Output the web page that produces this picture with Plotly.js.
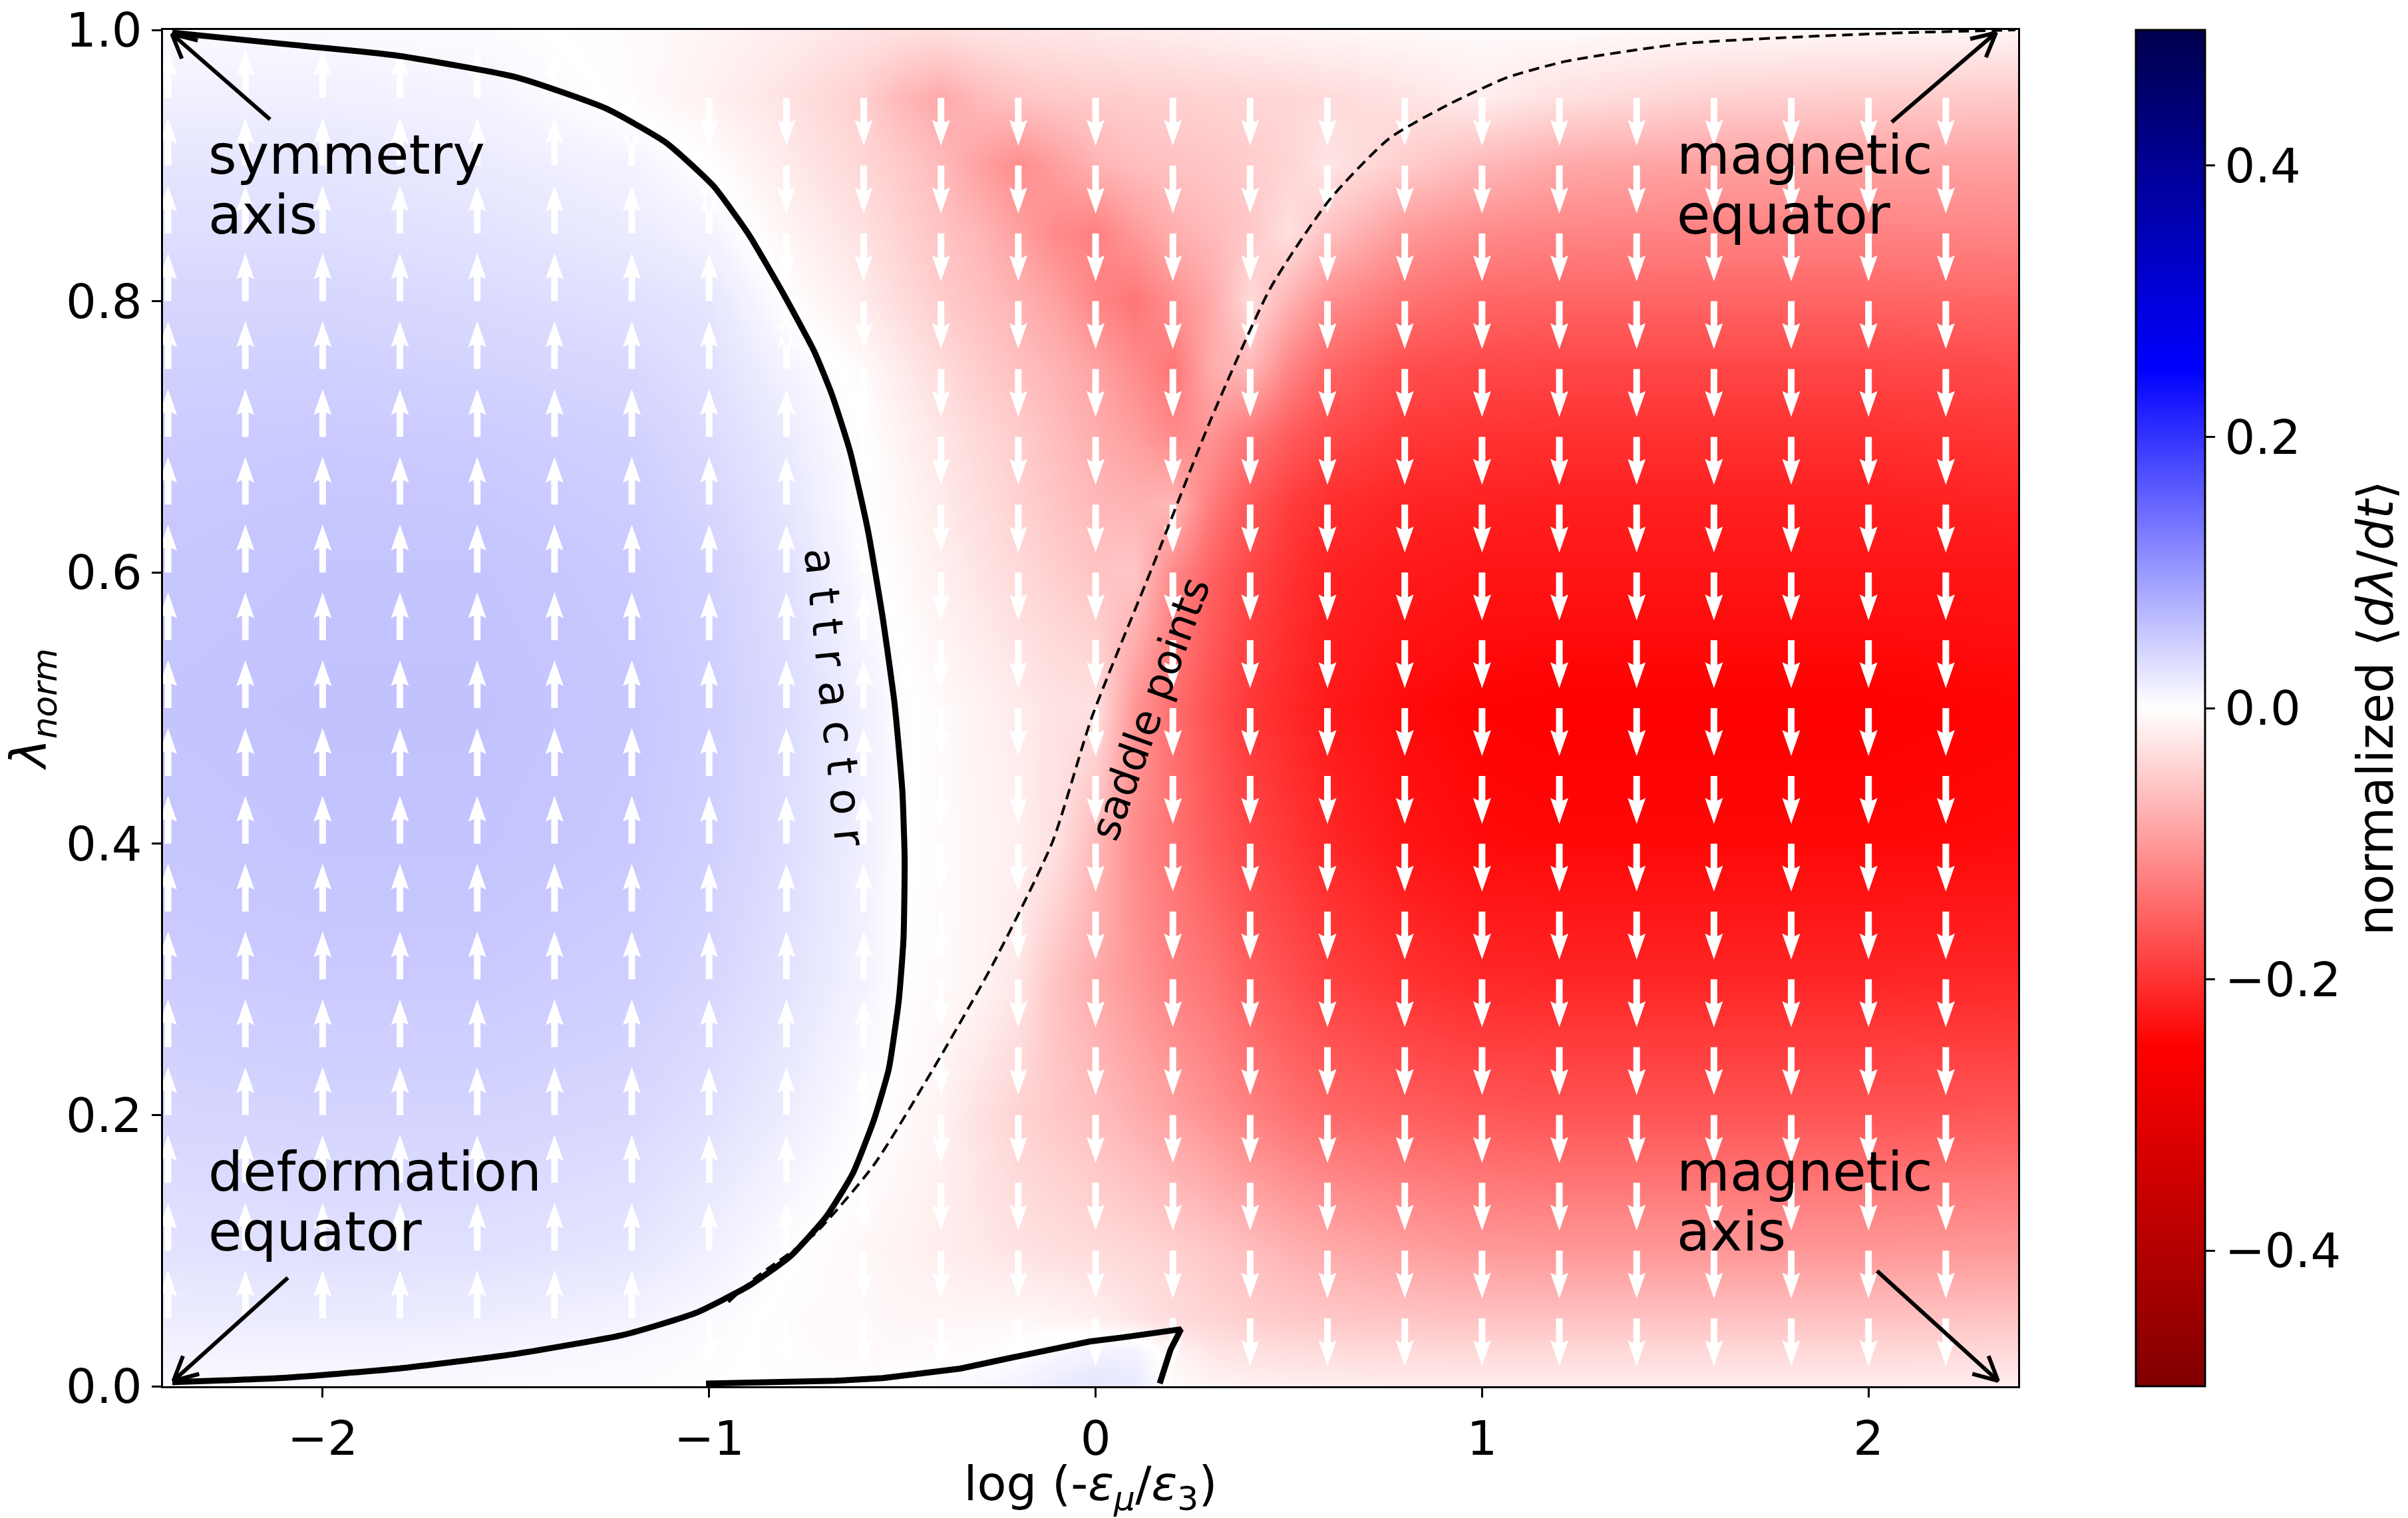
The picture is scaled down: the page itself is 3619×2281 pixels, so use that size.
<!DOCTYPE html>
<html>
<head>
<meta charset="utf-8">
<script src="https://cdn.plot.ly/plotly-3.0.1.min.js"></script>
<style>
html,body{margin:0;padding:0;background:#ffffff;}
#chart{width:3619px;height:2281px;}
</style>
</head>
<body>
<div id="chart"></div>
<script>
// ---------------- data ----------------
// heat-map grid: log(-eps_mu/eps_3) columns and lambda_norm rows
const GRID_X = [-2.4, -2.0, -1.6, -1.2, -1.0, -0.8, -0.6, -0.5, -0.4, -0.3, -0.2, -0.1, 0.0, 0.1, 0.2, 0.3, 0.4, 0.5, 0.6, 0.8, 1.0, 1.2, 1.6, 2.0, 2.4];
const GRID_Y = [0, 0.025, 0.05, 0.1, 0.2, 0.3, 0.4, 0.5, 0.6, 0.65, 0.7, 0.75, 0.8, 0.85, 0.9, 0.95, 1.0];

// normalized <dλ/dt>, one named row per lambda value
const Z_000 = [0.005, 0.005, 0.005, 0.003, 0.000, 0.000, 0.000, 0.002, 0.005, 0.008, 0.012, 0.020, 0.025, 0.022, -0.004, -0.010, -0.013, -0.015, -0.016, -0.017, -0.017, -0.017, -0.017, -0.017, -0.016];
const Z_025 = [0.012, 0.012, 0.010, 0.006, 0.002, -0.002, -0.006, -0.006, -0.005, -0.003, 0.001, 0.008, 0.014, 0.014, -0.010, -0.025, -0.030, -0.033, -0.035, -0.037, -0.038, -0.038, -0.038, -0.038, -0.037];
const Z_050 = [0.018, 0.020, 0.018, 0.012, 0.005, -0.003, -0.006, -0.008, -0.008, -0.008, -0.008, -0.010, -0.015, -0.025, -0.035, -0.042, -0.048, -0.052, -0.055, -0.058, -0.060, -0.060, -0.060, -0.060, -0.058];
const Z_100 = [0.028, 0.030, 0.030, 0.025, 0.015, 0.002, -0.008, -0.012, -0.018, -0.022, -0.028, -0.032, -0.036, -0.040, -0.046, -0.055, -0.065, -0.075, -0.083, -0.093, -0.100, -0.102, -0.102, -0.102, -0.100];
const Z_200 = [0.040, 0.042, 0.042, 0.038, 0.030, 0.018, 0.002, -0.005, -0.012, -0.029, -0.044, -0.054, -0.064, -0.078, -0.093, -0.108, -0.123, -0.137, -0.147, -0.157, -0.164, -0.167, -0.167, -0.167, -0.164];
const Z_300 = [0.050, 0.052, 0.052, 0.047, 0.040, 0.028, 0.012, 0.000, -0.005, -0.010, -0.025, -0.060, -0.083, -0.103, -0.123, -0.137, -0.157, -0.172, -0.186, -0.201, -0.211, -0.213, -0.213, -0.213, -0.211];
const Z_400 = [0.055, 0.058, 0.058, 0.053, 0.046, 0.033, 0.015, 0.002, -0.004, -0.010, -0.015, -0.030, -0.070, -0.113, -0.137, -0.162, -0.181, -0.196, -0.211, -0.230, -0.240, -0.242, -0.242, -0.242, -0.240];
const Z_500 = [0.058, 0.060, 0.060, 0.055, 0.048, 0.035, 0.015, 0.003, -0.005, -0.012, -0.020, -0.027, -0.030, -0.103, -0.142, -0.172, -0.196, -0.211, -0.225, -0.240, -0.247, -0.250, -0.250, -0.250, -0.245];
const Z_600 = [0.055, 0.058, 0.058, 0.052, 0.045, 0.030, 0.005, -0.005, -0.015, -0.026, -0.037, -0.048, -0.058, -0.055, -0.115, -0.155, -0.181, -0.201, -0.216, -0.225, -0.230, -0.230, -0.230, -0.230, -0.230];
const Z_650 = [0.053, 0.055, 0.054, 0.049, 0.040, 0.025, 0.000, -0.008, -0.020, -0.032, -0.045, -0.058, -0.070, -0.075, -0.070, -0.130, -0.165, -0.190, -0.205, -0.215, -0.218, -0.220, -0.220, -0.220, -0.216];
const Z_700 = [0.050, 0.052, 0.050, 0.045, 0.035, 0.020, 0.000, -0.012, -0.025, -0.038, -0.050, -0.065, -0.080, -0.095, -0.115, -0.105, -0.135, -0.160, -0.178, -0.196, -0.201, -0.203, -0.203, -0.203, -0.198];
const Z_750 = [0.045, 0.046, 0.043, 0.038, 0.030, 0.012, -0.005, -0.020, -0.035, -0.050, -0.062, -0.075, -0.090, -0.112, -0.135, -0.080, -0.070, -0.120, -0.150, -0.175, -0.180, -0.182, -0.182, -0.182, -0.178];
const Z_800 = [0.040, 0.040, 0.036, 0.030, 0.025, 0.000, -0.020, -0.035, -0.050, -0.062, -0.075, -0.092, -0.118, -0.135, -0.110, -0.085, -0.035, -0.075, -0.110, -0.138, -0.150, -0.152, -0.152, -0.152, -0.150];
const Z_850 = [0.032, 0.032, 0.028, 0.020, 0.012, -0.010, -0.030, -0.045, -0.058, -0.072, -0.092, -0.115, -0.125, -0.100, -0.080, -0.068, -0.055, -0.030, -0.060, -0.100, -0.115, -0.120, -0.123, -0.123, -0.120];
const Z_900 = [0.025, 0.025, 0.020, 0.012, 0.000, -0.020, -0.040, -0.052, -0.068, -0.092, -0.112, -0.095, -0.075, -0.065, -0.060, -0.056, -0.050, -0.042, -0.025, -0.050, -0.070, -0.085, -0.093, -0.093, -0.093];
const Z_950 = [0.015, 0.015, 0.012, -0.003, -0.014, -0.028, -0.048, -0.070, -0.085, -0.068, -0.058, -0.053, -0.050, -0.048, -0.046, -0.044, -0.042, -0.040, -0.036, -0.028, -0.018, -0.030, -0.045, -0.050, -0.054];
const Z_1000 = [0.005, 0.005, 0.003, -0.004, -0.010, -0.018, -0.026, -0.030, -0.030, -0.027, -0.025, -0.024, -0.022, -0.020, -0.018, -0.015, -0.012, -0.010, -0.009, -0.006, -0.004, -0.004, -0.006, -0.008, -0.010];

// quiver grid (arrow tails) and direction of dλ/dt (U = up, D = down), rows from top to bottom
const ARROW_X = [-2.4, -2.2, -2.0, -1.8, -1.6, -1.4, -1.2, -1.0, -0.8, -0.6, -0.4, -0.2, 0.0, 0.2, 0.4, 0.6, 0.8, 1.0, 1.2, 1.4, 1.6, 1.8, 2.0, 2.2];
const ARROW_Y = [0.95, 0.90, 0.85, 0.80, 0.75, 0.70, 0.65, 0.60, 0.55, 0.50, 0.45, 0.40, 0.35, 0.30, 0.25, 0.20, 0.15, 0.10, 0.05];
const ARROW_DIR = [
  "UUUUUUDDDDDDDDDDDDDDDDDD",
  "UUUUUUUDDDDDDDDDDDDDDDDD",
  "UUUUUUUUDDDDDDDDDDDDDDDD",
  "UUUUUUUUDDDDDDDDDDDDDDDD",
  "UUUUUUUUUDDDDDDDDDDDDDDD",
  "UUUUUUUUUDDDDDDDDDDDDDDD",
  "UUUUUUUUUDDDDDDDDDDDDDDD",
  "UUUUUUUUUUDDDDDDDDDDDDDD",
  "UUUUUUUUUUDDDDDDDDDDDDDD",
  "UUUUUUUUUUDDDDDDDDDDDDDD",
  "UUUUUUUUUUDDDDDDDDDDDDDD",
  "UUUUUUUUUUDDDDDDDDDDDDDD",
  "UUUUUUUUUUDDDDDDDDDDDDDD",
  "UUUUUUUUUUDDDDDDDDDDDDDD",
  "UUUUUUUUUUDDDDDDDDDDDDDD",
  "UUUUUUUUUUDDDDDDDDDDDDDD",
  "UUUUUUUUUDDDDDDDDDDDDDDD",
  "UUUUUUUUUDDDDDDDDDDDDDDD",
  "UUUUUUUDDDDDDDDDDDDDDDDD"
];

// attractor (solid), saddle points (dashed) and lower zero contour
const ATTRACTOR_X = [-2.389, -2.112, -1.805, -1.497, -1.266, -1.112, -0.989, -0.897, -0.805, -0.728, -0.682, -0.635, -0.589, -0.551, -0.520, -0.500, -0.494, -0.497, -0.509, -0.535, -0.574, -0.628, -0.697, -0.789, -0.897, -1.035, -1.220, -1.497, -1.805, -2.112, -2.389];
const ATTRACTOR_Y = [0.998, 0.990, 0.981, 0.965, 0.942, 0.917, 0.885, 0.849, 0.804, 0.763, 0.731, 0.689, 0.631, 0.567, 0.503, 0.439, 0.388, 0.330, 0.285, 0.234, 0.196, 0.157, 0.125, 0.096, 0.074, 0.054, 0.038, 0.024, 0.013, 0.006, 0.003];
const SADDLE_X = [-0.95, -0.88, -0.728, -0.574, -0.42, -0.266, -0.112, -0.01, 0.147, 0.300, 0.453, 0.606, 0.760, 0.913, 1.066, 1.219, 1.525, 1.83, 2.10, 2.38];
const SADDLE_Y = [0.062, 0.080, 0.112, 0.163, 0.234, 0.311, 0.401, 0.493, 0.604, 0.714, 0.810, 0.875, 0.920, 0.945, 0.965, 0.977, 0.990, 0.995, 0.998, 1.0];
const LOWER_X = [-1.008, -0.85, -0.674, -0.55, -0.454, -0.35, -0.235, -0.12, -0.015, 0.07, 0.149, 0.221, 0.194, 0.166];
const LOWER_Y = [0.002, 0.003, 0.004, 0.006, 0.009, 0.013, 0.020, 0.027, 0.033, 0.036, 0.039, 0.042, 0.027, 0.002];

// text labels (left edge, baseline) and their pointer arrows (tail -> head)
const LABEL_TEXT = ["symmetry", "axis", "deformation", "equator", "magnetic", "equator", "magnetic", "axis"];
const LABEL_X = [-2.3, -2.3, -2.3, -2.3, 1.5, 1.5, 1.5, 1.5];
const LABEL_BASE_Y = [0.894, 0.85, 0.144, 0.10, 0.894, 0.85, 0.144, 0.10];
const POINTER_TAIL_X = [-2.136, -2.09, 2.06, 2.022];
const POINTER_TAIL_Y = [0.934, 0.080, 0.932, 0.085];
const POINTER_HEAD_X = [-2.39, -2.386, 2.33, 2.335];
const POINTER_HEAD_Y = [0.997, 0.004, 0.998, 0.004];

// axis ticks
const X_TICKS = [-2, -1, 0, 1, 2];
const X_TICKTEXT = ["\u22122", "\u22121", "0", "1", "2"];
const Y_TICKS = [0, 0.2, 0.4, 0.6, 0.8, 1.0];
const Y_TICKTEXT = ["0.0", "0.2", "0.4", "0.6", "0.8", "1.0"];
const CB_TICKS = [0.4, 0.2, 0.0, -0.2, -0.4];
const CB_TICKTEXT = ["0.4", "0.2", "0.0", "\u22120.2", "\u22120.4"];

// ---------------- styling / geometry ----------------
const FONT = "DejaVu Sans, Noto Sans, sans-serif";
const W = 3619, H = 2281;
const M = {l: 245, r: 586, t: 45, b: 198};
const X_RANGE = [-2.413, 2.387];
const Y_RANGE = [0, 1];
const PLOT_W = W - M.l - M.r, PLOT_H = H - M.t - M.b;
const PX_X = PLOT_W / (X_RANGE[1] - X_RANGE[0]);
const PX_Y = PLOT_H / (Y_RANGE[1] - Y_RANGE[0]);

// seismic_r colour map
const SEISMIC_R = [[0, "rgb(128,0,0)"], [0.25, "rgb(255,0,0)"], [0.5, "rgb(255,255,255)"], [0.75, "rgb(0,0,255)"], [1, "rgb(0,0,77)"]];

const Z = [Z_000, Z_025, Z_050, Z_100, Z_200, Z_300, Z_400, Z_500, Z_600, Z_650, Z_700, Z_750, Z_800, Z_850, Z_900, Z_950, Z_1000];

// quiver arrows as filled polygons (sizes in pixels converted to data units)
const ARROW_LEN_PX = 72, HEAD_LEN_PX = 39, HEAD_HALF_PX = 13.5, SHAFT_HALF_PX = 5, NOTCH_PX = 4;
const qx = [], qy = [];
ARROW_DIR.forEach((row, r) => {
  const y0 = ARROW_Y[r];
  for (let c = 0; c < ARROW_X.length; c++) {
    const s = row[c] === "U" ? 1 : -1;
    const x0 = ARROW_X[c];
    const L = ARROW_LEN_PX / PX_Y, hl = HEAD_LEN_PX / PX_Y, nt = NOTCH_PX / PX_Y;
    const hw = HEAD_HALF_PX / PX_X, sw = SHAFT_HALF_PX / PX_X;
    const yb = y0 + s * (L - hl), yn = y0 + s * (L - hl + nt), yt = y0 + s * L;
    qx.push(x0 - sw, x0 - sw, x0 - hw, x0, x0 + hw, x0 + sw, x0 + sw, x0 - sw, null);
    qy.push(y0, yn, yb, yt, yb, yn, y0, y0, null);
  }
});

// black pointer arrows: shaft plus open "->" head (head arms sized in pixels)
const HEAD_ARM_PX = 40, HEAD_ANGLE = 27 * Math.PI / 180;
const px = [], py = [];
for (let i = 0; i < POINTER_HEAD_X.length; i++) {
  const hx = POINTER_HEAD_X[i], hy = POINTER_HEAD_Y[i], tx = POINTER_TAIL_X[i], ty = POINTER_TAIL_Y[i];
  px.push(tx, hx, null); py.push(ty, hy, null);
  const dxp = (tx - hx) * PX_X, dyp = (ty - hy) * PX_Y;
  const n = Math.hypot(dxp, dyp), ux = dxp / n, uy = dyp / n;
  const arm = (a) => [hx + HEAD_ARM_PX * (ux * Math.cos(a) - uy * Math.sin(a)) / PX_X,
                      hy + HEAD_ARM_PX * (ux * Math.sin(a) + uy * Math.cos(a)) / PX_Y];
  const a1 = arm(HEAD_ANGLE), a2 = arm(-HEAD_ANGLE);
  px.push(a1[0], hx, a2[0], null); py.push(a1[1], hy, a2[1], null);
}

const traces = [
  {
    type: "heatmap", x: GRID_X, y: GRID_Y, z: Z,
    zmin: -0.5, zmax: 0.5, zsmooth: "best", colorscale: SEISMIC_R,
    hoverinfo: "skip",
    colorbar: {
      x: (3210 - M.l) / PLOT_W, xanchor: "left", y: 0.5, yanchor: "middle",
      len: 1, lenmode: "fraction", thickness: 104, thicknessmode: "pixels",
      xpad: 0, ypad: 0, outlinewidth: 3, outlinecolor: "#000",
      tickmode: "array", tickvals: CB_TICKS, ticktext: CB_TICKTEXT,
      ticks: "outside", ticklen: 14, tickwidth: 3, tickcolor: "#000",
      tickfont: {family: FONT, size: 72, color: "#000"}
    }
  },
  {
    type: "scatter", mode: "lines", x: qx, y: qy, fill: "toself", fillcolor: "#ffffff",
    line: {width: 0, color: "#ffffff"}, hoverinfo: "skip", showlegend: false
  },
  {
    type: "scatter", mode: "lines", x: SADDLE_X, y: SADDLE_Y,
    line: {color: "#000", width: 4, dash: "16px,9px", shape: "spline", smoothing: 0.6},
    hoverinfo: "skip", showlegend: false
  },
  {
    type: "scatter", mode: "lines", x: ATTRACTOR_X, y: ATTRACTOR_Y,
    line: {color: "#000", width: 9, shape: "spline", smoothing: 0.5},
    hoverinfo: "skip", showlegend: false
  },
  {
    type: "scatter", mode: "lines", x: LOWER_X, y: LOWER_Y,
    line: {color: "#000", width: 9},
    hoverinfo: "skip", showlegend: false
  },
  {
    type: "scatter", mode: "lines", x: px, y: py,
    line: {color: "#000", width: 6},
    hoverinfo: "skip", showlegend: false, cliponaxis: false
  }
];

const annotations = [];
const LABEL_SIZE = 82;
LABEL_TEXT.forEach((t, i) => {
  annotations.push({
    x: LABEL_X[i], y: LABEL_BASE_Y[i] + 0.35 * LABEL_SIZE / PX_Y, xref: "x", yref: "y",
    text: t, showarrow: false, xanchor: "left", yanchor: "middle",
    font: {family: FONT, size: LABEL_SIZE, color: "#000"}
  });
});
annotations.push({
  x: -0.675, y: 0.508, xref: "x", yref: "y", showarrow: false, textangle: 84,
  text: "a t t r a c t o r",
  font: {family: FONT, size: 65, color: "#000"}, xanchor: "center", yanchor: "middle"
});
annotations.push({
  x: 0.14, y: 0.50, xref: "x", yref: "y", showarrow: false, textangle: -70,
  text: "saddle points",
  font: {family: FONT, size: 62, color: "#000"}, xanchor: "center", yanchor: "middle"
});
// colour-bar label
annotations.push({
  x: (3570 - M.l) / PLOT_W, y: 0.5, xref: "paper", yref: "paper", showarrow: false, textangle: -90,
  text: "normalized \u27E8<i>d\u03BB</i>/<i>dt</i>\u27E9",
  font: {family: FONT, size: 74, color: "#000"}, xanchor: "center", yanchor: "middle"
});

const axisCommon = {
  ticks: "outside", ticklen: 14, tickwidth: 3, tickcolor: "#000",
  showline: true, linecolor: "#000", linewidth: 3, mirror: true,
  showgrid: false, zeroline: false, ticklabeloverflow: "allow",
  tickfont: {family: FONT, size: 72, color: "#000"}
};

const layout = {
  width: W, height: H, margin: M,
  paper_bgcolor: "#ffffff", plot_bgcolor: "#ffffff",
  font: {family: FONT, color: "#000"},
  showlegend: false,
  xaxis: Object.assign({}, axisCommon, {
    range: X_RANGE, tickmode: "array", tickvals: X_TICKS, ticktext: X_TICKTEXT,
    title: {text: "log (-<i>\u03B5</i><sub><i>\u03BC</i></sub>/<i>\u03B5</i><sub>3</sub>)", font: {family: FONT, size: 72, color: "#000"}, standoff: 25}
  }),
  yaxis: Object.assign({}, axisCommon, {
    range: Y_RANGE, tickmode: "array", tickvals: Y_TICKS, ticktext: Y_TICKTEXT,
    title: {text: "<i>\u03BB</i><sub><i>norm</i></sub>", font: {family: FONT, size: 74, color: "#000"}, standoff: 22}
  }),
  annotations: annotations
};

Plotly.newPlot("chart", traces, layout, {displayModeBar: false, staticPlot: true});
</script>
</body>
</html>
